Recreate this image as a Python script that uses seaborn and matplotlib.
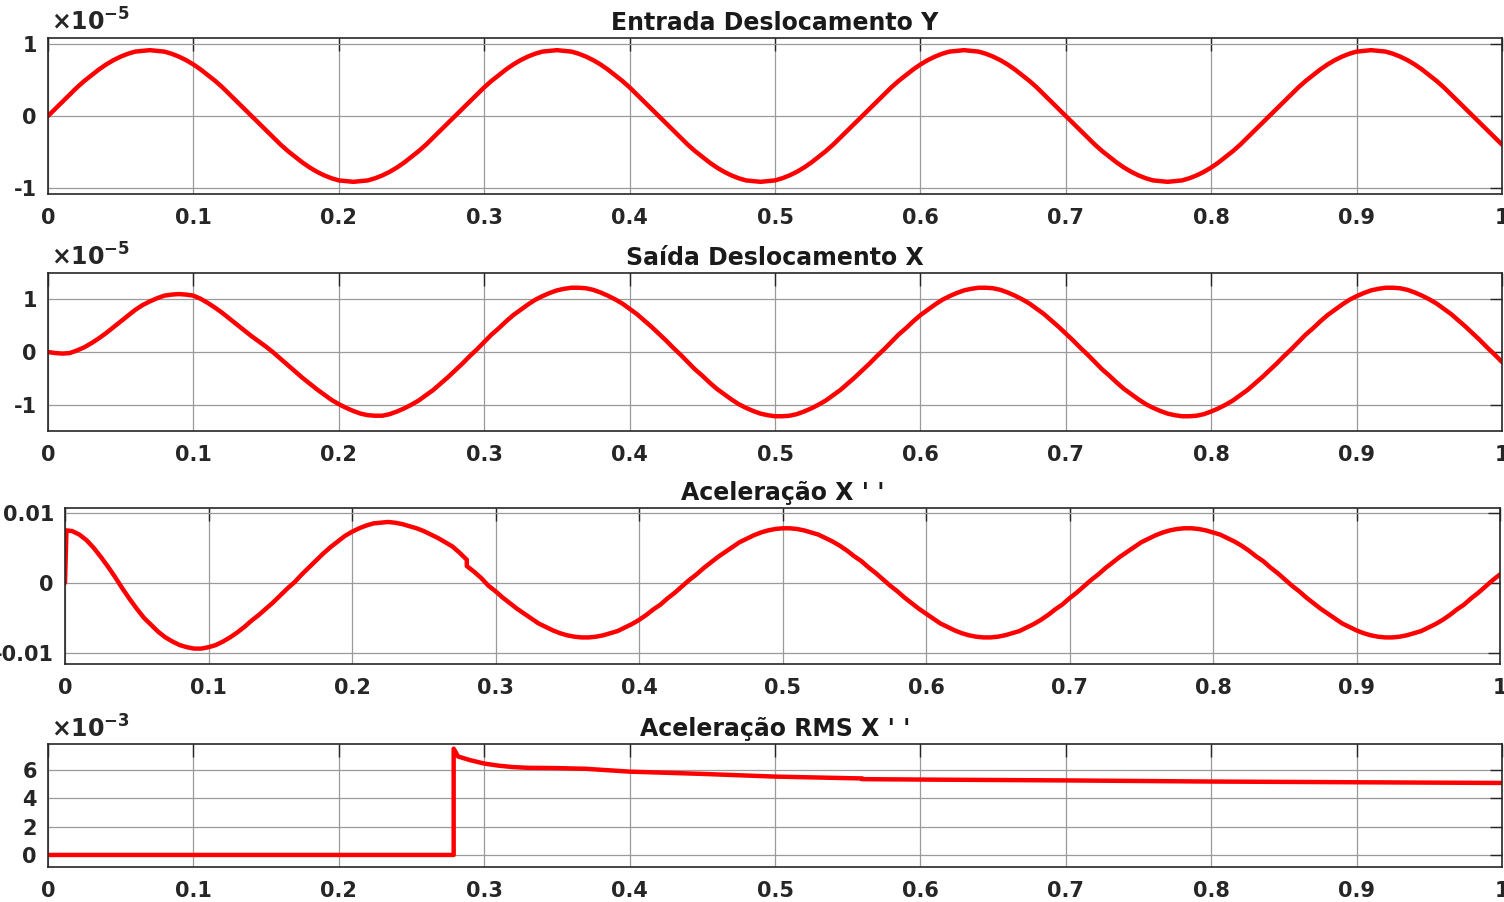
import numpy as np
import pandas as pd
import seaborn as sns
from matplotlib import pyplot as plt

t_half = [round(0.005 * i, 3) for i in range(201)]

# input displacement Y (x 1e-5)
entrada_y = [
    0, 0.10, 0.20, 0.30, 0.40, 0.49, 0.57, 0.65, 0.72, 0.78, 0.83, 0.87, 0.90, 0.91,
    0.92, 0.91, 0.90, 0.87, 0.83, 0.78, 0.72, 0.65, 0.57, 0.49, 0.40, 0.30, 0.20, 0.10,
    0, -0.10, -0.20, -0.30, -0.40, -0.49, -0.57, -0.65, -0.72, -0.78, -0.83, -0.87, -0.90, -0.91,
    -0.92, -0.91, -0.90, -0.87, -0.83, -0.78, -0.72, -0.65, -0.57, -0.49, -0.40, -0.30, -0.20, -0.10,
    0, 0.10, 0.20, 0.30, 0.40, 0.49, 0.57, 0.65, 0.72, 0.78, 0.83, 0.87, 0.90, 0.91,
    0.92, 0.91, 0.90, 0.87, 0.83, 0.78, 0.72, 0.65, 0.57, 0.49, 0.40, 0.30, 0.20, 0.10,
    0, -0.10, -0.20, -0.30, -0.40, -0.49, -0.57, -0.65, -0.72, -0.78, -0.83, -0.87, -0.90, -0.91,
    -0.92, -0.91, -0.90, -0.87, -0.83, -0.78, -0.72, -0.65, -0.57, -0.49, -0.40, -0.30, -0.20, -0.10,
    0, 0.10, 0.20, 0.30, 0.40, 0.49, 0.57, 0.65, 0.72, 0.78, 0.83, 0.87, 0.90, 0.91,
    0.92, 0.91, 0.90, 0.87, 0.83, 0.78, 0.72, 0.65, 0.57, 0.49, 0.40, 0.30, 0.20, 0.10,
    0, -0.10, -0.20, -0.30, -0.40, -0.49, -0.57, -0.65, -0.72, -0.78, -0.83, -0.87, -0.90, -0.91,
    -0.92, -0.91, -0.90, -0.87, -0.83, -0.78, -0.72, -0.65, -0.57, -0.49, -0.40, -0.30, -0.20, -0.10,
    0, 0.10, 0.20, 0.30, 0.40, 0.49, 0.57, 0.65, 0.72, 0.78, 0.83, 0.87, 0.90, 0.91,
    0.92, 0.91, 0.90, 0.87, 0.83, 0.78, 0.72, 0.65, 0.57, 0.49, 0.40, 0.30, 0.20, 0.10,
    0, -0.10, -0.20, -0.30, -0.40]

# output displacement X (x 1e-5)
saida_x = [
    0, -0.02, -0.03, -0.02, 0.03, 0.09, 0.17, 0.26, 0.36, 0.47, 0.58, 0.69, 0.80, 0.89,
    0.96, 1.02, 1.07, 1.09, 1.10, 1.09, 1.07, 1.01, 0.93, 0.84, 0.74, 0.63, 0.52, 0.41,
    0.30, 0.20, 0.10, -0.01, -0.13, -0.25, -0.37, -0.49, -0.60, -0.71, -0.81, -0.91, -0.99, -1.06,
    -1.12, -1.17, -1.20, -1.21,
    -1.21, -1.18, -1.13, -1.07, -1.00, -0.92, -0.82, -0.72, -0.60, -0.48, -0.35, -0.22,
    -0.08, 0.05, 0.19, 0.33, 0.45, 0.58, 0.70, 0.80, 0.90, 0.99, 1.06, 1.12, 1.17, 1.20,
    1.22, 1.22, 1.21, 1.18, 1.13, 1.07, 1.00, 0.92, 0.82, 0.72, 0.60, 0.48, 0.35, 0.22,
    0.08, -0.05, -0.19, -0.33, -0.45, -0.58, -0.70, -0.80, -0.90, -0.99, -1.06, -1.12, -1.17, -1.20,
    -1.22, -1.22, -1.21, -1.18, -1.13, -1.07, -1.00, -0.92, -0.82, -0.72, -0.60, -0.48, -0.35, -0.22,
    -0.08, 0.05, 0.19, 0.33, 0.45, 0.58, 0.70, 0.80, 0.90, 0.99, 1.06, 1.12, 1.17, 1.20,
    1.22, 1.22, 1.21, 1.18, 1.13, 1.07, 1.00, 0.92, 0.82, 0.72, 0.60, 0.48, 0.35, 0.22,
    0.08, -0.05, -0.19, -0.33, -0.45, -0.58, -0.70, -0.80, -0.90, -0.99, -1.06, -1.12, -1.17, -1.20,
    -1.22, -1.22, -1.21, -1.18, -1.13, -1.07, -1.00, -0.92, -0.82, -0.72, -0.60, -0.48, -0.35, -0.22,
    -0.08, 0.05, 0.19, 0.33, 0.45, 0.58, 0.70, 0.80, 0.90, 0.99, 1.06, 1.12, 1.17, 1.20,
    1.22, 1.22, 1.21, 1.18, 1.13, 1.07, 1.00, 0.92, 0.82, 0.72, 0.60, 0.48, 0.35, 0.22,
    0.08, -0.05, -0.19]

# acceleration X'' (extra samples at 0.001 s and a step at 0.28 s)
t_acel = [0, 0.001] + t_half[1:57] + [0.28] + t_half[57:]
acel_x = [
    0, 0.0075,
    0.0074, 0.0069, 0.0061, 0.0050, 0.0037, 0.0023, 0.0008, -0.0008, -0.0023, -0.0037,
    -0.0050, -0.0060, -0.0070, -0.0078, -0.0084, -0.0089, -0.0092, -0.0094, -0.0094, -0.0092,
    -0.0089, -0.0084, -0.0078, -0.0071, -0.0063, -0.0054, -0.0046, -0.0037, -0.0028, -0.0018,
    -0.0008, 0.0001, 0.0012, 0.0022, 0.0032, 0.0042, 0.0051, 0.0059, 0.0067, 0.0073,
    0.0078, 0.0082, 0.0085, 0.0086, 0.0087, 0.0086, 0.0084, 0.0081, 0.0078, 0.0074,
    0.0069, 0.0064, 0.0058, 0.0052, 0.0043, 0.0033,
    0.0024, 0.0016, 0.0007,
    -0.0004, -0.0012, -0.0021, -0.0029, -0.0037, -0.0044, -0.0051, -0.0058, -0.0063, -0.0068,
    -0.0072, -0.0075, -0.0077, -0.0078, -0.0078, -0.0077, -0.0075, -0.0072, -0.0069, -0.0064,
    -0.0059, -0.0053, -0.0046, -0.0038, -0.0031, -0.0022, -0.0014,
    -0.0005, 0.0004, 0.0012, 0.0021, 0.0029, 0.0037, 0.0044, 0.0051, 0.0058, 0.0063, 0.0068,
    0.0072, 0.0075, 0.0077, 0.0078, 0.0078, 0.0077, 0.0075, 0.0072, 0.0069, 0.0064,
    0.0059, 0.0053, 0.0046, 0.0038, 0.0031, 0.0022, 0.0014,
    0.0005, -0.0004, -0.0012, -0.0021, -0.0029, -0.0037, -0.0044, -0.0051, -0.0058, -0.0063, -0.0068,
    -0.0072, -0.0075, -0.0077, -0.0078, -0.0078, -0.0077, -0.0075, -0.0072, -0.0069, -0.0064,
    -0.0059, -0.0053, -0.0046, -0.0038, -0.0031, -0.0022, -0.0014,
    -0.0005, 0.0004, 0.0012, 0.0021, 0.0029, 0.0037, 0.0044, 0.0051, 0.0058, 0.0063, 0.0068,
    0.0072, 0.0075, 0.0077, 0.0078, 0.0078, 0.0077, 0.0075, 0.0072, 0.0069, 0.0064,
    0.0059, 0.0053, 0.0046, 0.0038, 0.0031, 0.0022, 0.0014,
    0.0005, -0.0004, -0.0012, -0.0021, -0.0029, -0.0037, -0.0044, -0.0051, -0.0058, -0.0063, -0.0068,
    -0.0072, -0.0075, -0.0077, -0.0078, -0.0078, -0.0077, -0.0075, -0.0072, -0.0069, -0.0064,
    -0.0059, -0.0053, -0.0046, -0.0038, -0.0031, -0.0022, -0.0014,
    -0.0005, 0.0004, 0.0012]

# RMS acceleration X'' (x 1e-3)
t_rms = [0, 0.279, 0.279, 0.282, 0.29, 0.30, 0.31, 0.32, 0.33, 0.35, 0.37, 0.40, 0.45, 0.50,
         0.55, 0.56, 0.56, 0.60, 0.70, 0.80, 0.90, 1.00]
acel_rms = [0, 0, 7.5, 6.95, 6.7, 6.45, 6.3, 6.2, 6.15, 6.13, 6.08, 5.88, 5.72, 5.53,
            5.42, 5.40, 5.35, 5.32, 5.26, 5.18, 5.13, 5.08]

titles = ['Entrada Deslocamento Y', 'Saída Deslocamento X', "Aceleração X ' '", "Aceleração RMS X ' '"]

sns.set_theme(style='white')
plt.rcParams['font.family'] = ['DejaVu Sans']
plt.rcParams['font.weight'] = 'bold'
plt.rcParams['mathtext.fontset'] = 'dejavusans'

fig = plt.figure(figsize=(15.04, 9.02), dpi=100)
W, H = 1504, 902
boxes = [(48, 38, 1502, 194), (48, 273, 1502, 431), (65, 508, 1500, 664), (48, 744, 1502, 867)]
axes = [fig.add_axes([l / W, 1 - b / H, (r - l) / W, (b - t) / H]) for l, t, r, b in boxes]

data = [(t_half, entrada_y), (t_half, saida_x), (t_acel, acel_x), (t_rms, acel_rms)]
ylims = [(-1.09, 1.09), (-1.5, 1.5), (-0.0116, 0.0107), (-0.85, 7.83)]
yticks = [[-1, 0, 1], [-1, 0, 1], [-0.01, 0, 0.01], [0, 2, 4, 6]]
ylabels = [['-1', '0', '1'], ['-1', '0', '1'], ['-0.01', '0', '0.01'], ['0', '2', '4', '6']]
expo = ['-5', '-5', None, '-3']

for ax, (tt, vv), title, yl, yt, ylb, ex in zip(axes, data, titles, ylims, yticks, ylabels, expo):
    df = pd.DataFrame({'t': tt, 'v': vv})
    sns.lineplot(data=df, x='t', y='v', ax=ax, color='#ff0000', linewidth=3.2,
                 estimator=None, sort=False)
    ax.set_xlim(0, 1)
    ax.set_ylim(*yl)
    ax.set_xticks(np.round(np.arange(0, 1.01, 0.1), 1))
    ax.set_xticklabels(['0'] + [f'{x:.1f}' for x in np.arange(0.1, 0.95, 0.1)] + ['1'])
    ax.set_yticks(yt)
    ax.set_yticklabels(ylb)
    ax.set_xlabel('')
    ax.set_ylabel('')
    ax.grid(True, color='#9a9a9a', linewidth=0.9)
    ax.tick_params(direction='in', length=9, width=1, colors='#262626', labelsize=15,
                   top=True, right=True, pad=8)
    ax.tick_params(axis='x', pad=10)
    for lab in ax.get_xticklabels() + ax.get_yticklabels():
        lab.set_fontweight('bold')
    for sp in ax.spines.values():
        sp.set_visible(True)
        sp.set_color('#262626')
        sp.set_linewidth(1.2)
    ax.set_title(title, fontsize=17, fontweight='bold', color='#1a1a1a', pad=6)
    if ex is not None:
        ax.text(0.002, 1.015, r'$\times\mathbf{10^{' + ex + r'}}$', transform=ax.transAxes,
                ha='left', va='bottom', fontsize=17, color='#262626')

fig.savefig('out.png', dpi=100)
